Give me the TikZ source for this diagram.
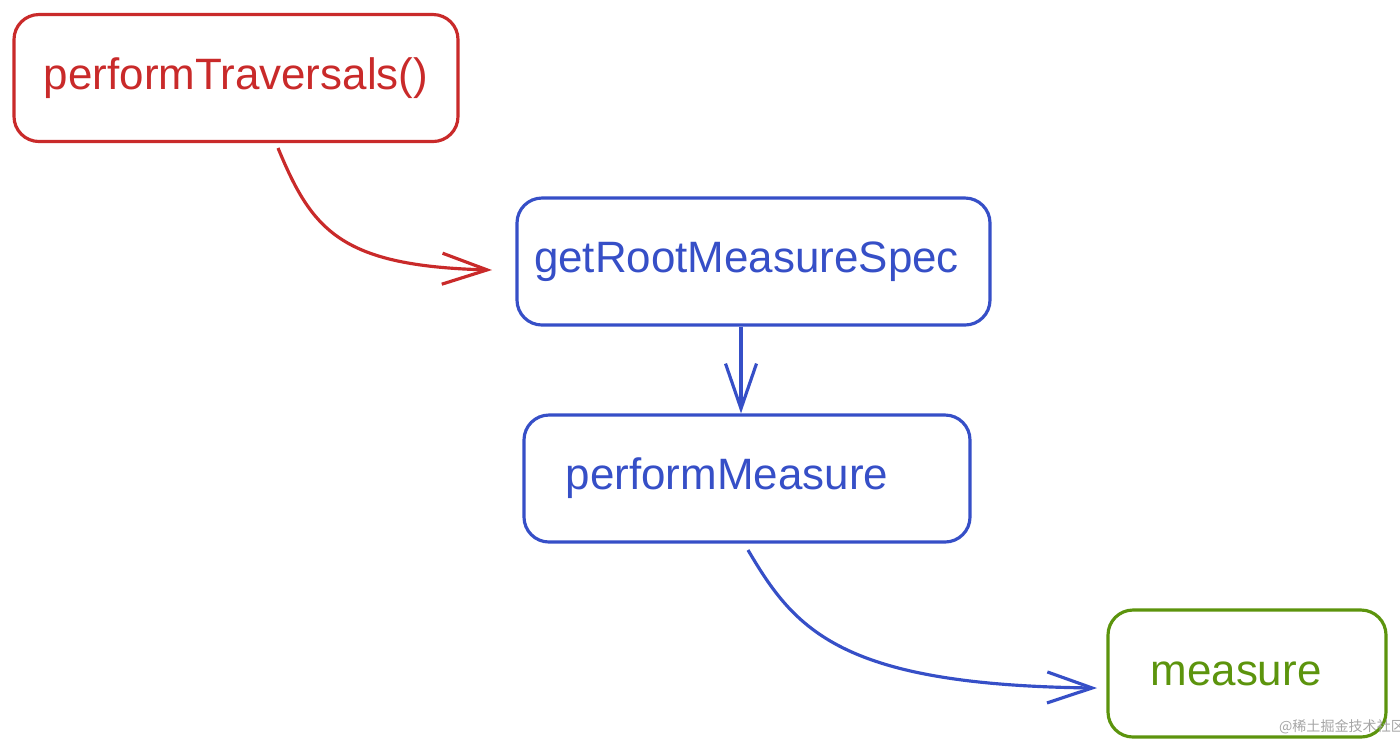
\documentclass[tikz,border=0pt]{standalone}
\usepackage{fontspec}
\setmainfont{Liberation Sans}
\newfontfamily\cjk{Noto Sans CJK SC}
\usetikzlibrary{arrows.meta}
\definecolor{sketchred}{RGB}{201,42,42}
\definecolor{sketchblue}{RGB}{54,79,199}
\definecolor{sketchgreen}{RGB}{92,148,13}
\begin{document}
\begin{tikzpicture}[
    callbox/.style={draw,line width=0.9pt,rounded corners=0.25cm,minimum height=1.27cm,
      font=\fontsize{12.5}{15}\selectfont},
    flow/.style={line width=0.9pt,-{Straight Barb[length=4.5mm,width=3.1mm]}}]
  \useasboundingbox (0,0) rectangle (14,-7.52);
  \node[callbox,sketchred,minimum width=4.44cm,text=sketchred] (traversals) at (2.36,-0.78) {performTraversals()};
  \node[callbox,sketchblue,minimum width=4.73cm,text=sketchblue] (rootspec) at (7.535,-2.615) {getRootMeasureSpec\hspace*{0.14cm}};
  \node[callbox,sketchblue,minimum width=4.46cm,text=sketchblue] (performmeasure) at (7.47,-4.785) {performMeasure\hspace*{0.4cm}};
  \node[callbox,sketchgreen,minimum width=2.78cm,text=sketchgreen] (measure) at (12.47,-6.735) {measure\hspace*{0.22cm}};
  % connectors
  \coordinate (redend) at (4.92,-2.70);
  \coordinate (greenend) at (10.97,-6.88);
  \draw[flow,sketchred] (2.78,-1.48) .. controls (3.12,-2.30) and (3.40,-2.66) .. (redend);
  \draw[flow,sketchblue] (rootspec.south -| 7.41,0) -- (performmeasure.north -| 7.41,0);
  \draw[flow,sketchblue] (7.48,-5.50) .. controls (7.95,-6.30) and (8.40,-6.85) .. (greenend);
  % watermark
  \node[text=black!35,font=\cjk\fontsize{4}{5}\selectfont] (mark) at (13.42,-7.27) {@稀土掘金技术社区};
\end{tikzpicture}
\end{document}
